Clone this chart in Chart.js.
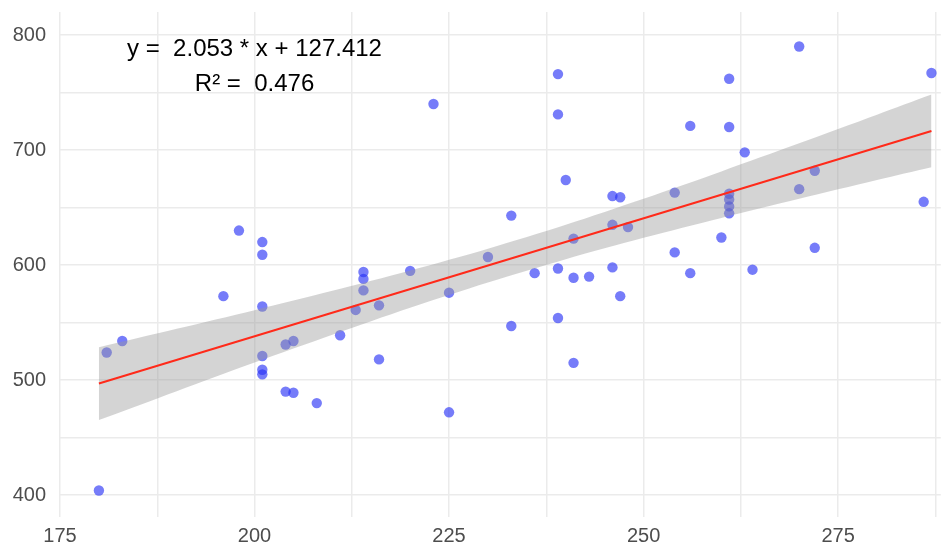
<!DOCTYPE html>
<html>
<head>
<meta charset="utf-8">
<script src="https://cdn.jsdelivr.net/npm/chart.js@4.4.1/dist/chart.umd.min.js"></script>
<style>
    body { margin: 0; background: #fff; }
    #wrap { width: 946px; height: 543px; }
</style>
</head>
<body>
<div id="wrap"><canvas id="scatterChart"></canvas></div>
<script>
// Scatter data
const xValues = [180, 181, 183, 196, 198, 201, 201, 201, 201, 201, 201, 204, 205, 204, 205, 208, 211, 213, 214, 214,
    214, 216, 216, 220, 223, 225, 225, 230, 233, 233, 236, 239, 239, 239, 239, 240, 241, 241, 241, 243,
    246, 246, 246, 247, 247, 248, 254, 254, 256, 256, 260, 261, 261, 261, 261, 261, 261, 263, 264, 270,
    270, 272, 272, 286, 287];
const yValues = [404, 524, 534, 573, 630, 620, 609, 564, 521, 509, 505, 531, 534, 490, 489, 480, 539, 561, 594, 588,
    578, 565, 518, 595, 740, 576, 472, 607, 643, 547, 593, 766, 731, 597, 554, 674, 623, 589, 515, 590,
    660, 635, 598, 659, 573, 633, 663, 611, 721, 593, 624, 762, 720, 662, 657, 651, 645, 698, 596, 790,
    666, 682, 615, 655, 767];

// Fitted line and its confidence band
const fitX = [180, 287];
const fitY = [497, 716.6];
const bandX = [180, 190, 200, 210, 220, 230, 240, 250, 260, 270, 280, 287];
const bandUpper = [528.5, 544.6, 560.8, 577.6, 595.3, 614.3, 635.1, 657.7, 681.4, 705.8, 730.7, 748.2];
const bandLower = [465.3, 490.4, 515.2, 539.4, 562.9, 584.9, 605.1, 623.7, 641.0, 657.6, 673.9, 685.0];

// Axis ticks
const xTicks = [175, 187.5, 200, 212.5, 225, 237.5, 250, 262.5, 275, 287.5];
const yTicks = [400, 450, 500, 550, 600, 650, 700, 750, 800];

// Equation label
const fitLabels = ['y =  2.053 * x + 127.412', 'R\u00b2 =  0.476'];
const labelX = 200;
const labelY = [787.5, 757.5];

function toPoints(xs, ys) {
    return xs.map(function(v, i) { return { x: v, y: ys[i] }; });
}

const fitLabelPlugin = {
    id: 'fitLabel',
    afterDatasetsDraw: function(chart) {
        const ctx = chart.ctx;
        const xScale = chart.scales.x;
        const yScale = chart.scales.y;
        ctx.save();
        ctx.font = '24px "Liberation Sans", Arial, sans-serif';
        ctx.fillStyle = '#000000';
        ctx.textAlign = 'center';
        ctx.textBaseline = 'middle';
        fitLabels.forEach(function(text, i) {
            ctx.fillText(text, xScale.getPixelForValue(labelX), yScale.getPixelForValue(labelY[i]));
        });
        ctx.restore();
    }
};

const gridColor = '#ebebeb';
const textColor = '#4d4d4d';

new Chart(document.getElementById('scatterChart').getContext('2d'), {
    type: 'scatter',
    data: {
        datasets: [
            {
                label: 'points',
                data: toPoints(xValues, yValues),
                backgroundColor: 'rgba(40, 50, 245, 0.64)',
                borderWidth: 0,
                pointRadius: 5.2,
                order: 3
            },
            {
                type: 'line',
                label: 'upper',
                data: toPoints(bandX, bandUpper),
                borderColor: 'rgba(0,0,0,0)',
                borderWidth: 0,
                pointRadius: 0,
                backgroundColor: 'rgba(153, 153, 153, 0.42)',
                fill: '+1',
                tension: 0.3,
                order: 2
            },
            {
                type: 'line',
                label: 'lower',
                data: toPoints(bandX, bandLower),
                borderColor: 'rgba(0,0,0,0)',
                borderWidth: 0,
                pointRadius: 0,
                fill: false,
                tension: 0.3,
                order: 2
            },
            {
                type: 'line',
                label: 'fit',
                data: toPoints(fitX, fitY),
                borderColor: '#ff2a1a',
                borderWidth: 2,
                pointRadius: 0,
                fill: false,
                order: 1
            }
        ]
    },
    options: {
        responsive: true,
        maintainAspectRatio: false,
        animation: false,
        layout: {
            padding: { top: 12, left: 0, right: 0, bottom: 0 }
        },
        plugins: {
            legend: { display: false },
            tooltip: { enabled: false }
        },
        scales: {
            x: {
                type: 'linear',
                min: 175,
                max: 288.2,
                afterBuildTicks: function(scale) {
                    scale.ticks = xTicks.map(function(v) { return { value: v }; });
                },
                afterFit: function(scale) {
                    scale.height = 26;
                    scale.paddingLeft = 0;
                    scale.paddingRight = 0;
                },
                border: { display: false },
                grid: {
                    color: gridColor,
                    lineWidth: 1.5,
                    drawTicks: false
                },
                ticks: {
                    color: textColor,
                    padding: 7,
                    maxRotation: 0,
                    autoSkip: false,
                    font: { family: '"Liberation Sans", Arial, sans-serif', size: 20 },
                    callback: function(value) {
                        return value % 25 === 0 ? value : '';
                    }
                }
            },
            y: {
                type: 'linear',
                min: 381,
                max: 820,
                afterBuildTicks: function(scale) {
                    scale.ticks = yTicks.map(function(v) { return { value: v }; });
                },
                afterFit: function(scale) {
                    scale.width = 60;
                    scale.paddingTop = 0;
                    scale.paddingBottom = 0;
                },
                border: { display: false },
                grid: {
                    color: gridColor,
                    lineWidth: 1.5,
                    drawTicks: false
                },
                ticks: {
                    color: textColor,
                    padding: 14,
                    autoSkip: false,
                    font: { family: '"Liberation Sans", Arial, sans-serif', size: 20 },
                    callback: function(value) {
                        return value % 100 === 0 ? value : '';
                    }
                }
            }
        }
    },
    plugins: [fitLabelPlugin]
});
</script>
</body>
</html>
